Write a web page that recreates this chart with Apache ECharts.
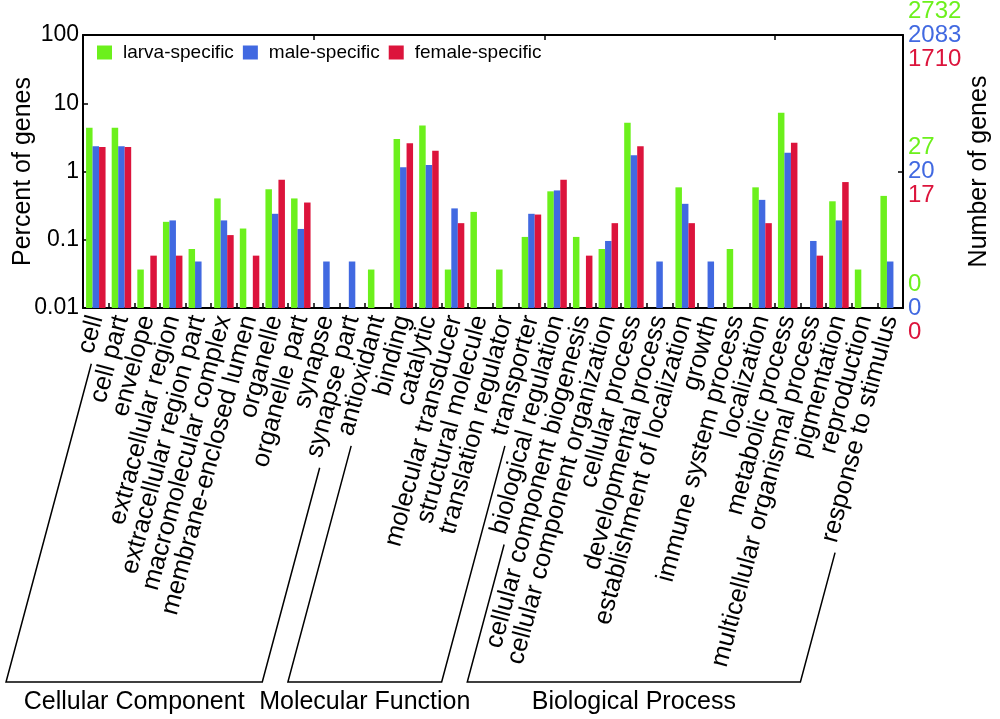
<!DOCTYPE html>
<html><head><meta charset="utf-8">
<script src="https://cdn.jsdelivr.net/npm/echarts@6/dist/echarts.min.js"></script>
<style>html,body{margin:0;padding:0;background:#fff}#c{width:1000px;height:719px}</style>
</head><body><div id="c"></div>
<script>
const categories = ['cell','cell part','envelope','extracellular region','extracellular region part','macromolecular complex','membrane-enclosed lumen','organelle','organelle part','synapse','synapse part',
  'antioxidant','binding','catalytic','molecular transducer','structural molecule','translation regulator','transporter',
  'biological regulation','cellular component biogenesis','cellular component organization','cellular process','developmental process','establishment of localization','growth','immune system process','localization','metabolic process','multicellular organismal process','pigmentation','reproduction','response to stimulus'];
const groupNames = ['Cellular Component','Molecular Function','Biological Process'];
const groupFirst = [0, 11, 18];
const groupLast = [10, 17, 31];
const seriesNames = ['larva-specific','male-specific','female-specific'];
const larva  = [4.39,4.39,0.0366,0.183,0.0732,0.403,0.146,0.549,0.403,null,null, 0.0366,3.0,4.73,0.0366,0.256,0.0366,0.110, 0.512,0.110,0.0732,5.18,null,0.586,null,0.0732,0.586,7.26,null,0.366,0.0366,0.439];
const male   = [2.35,2.35,null,0.192,0.048,0.192,null,0.24,0.144,0.048,0.048, null,1.15,1.25,0.288,null,null,0.24, 0.528,null,0.096,1.73,0.048,0.336,0.048,null,0.384,1.88,0.096,0.192,null,0.048];
const female = [2.28,2.28,0.0585,0.0585,null,0.117,0.0585,0.76,0.351,null,null, null,2.6,2.01,0.175,null,null,0.234, 0.76,0.0585,0.175,2.35,null,0.175,null,null,0.175,2.63,0.0585,0.70,null,null];
const leftTickLabels = ['0.01','0.1','1','10','100'];
const rightTickLarva = ['0','27','2732'];
const rightTickMale = ['0','20','2083'];
const rightTickFemale = ['0','17','1710'];

const COLORS = ['#6CF01C','#4169E1','#DC143C'];
const FONT = '"Liberation Sans", Arial, Helvetica, sans-serif';
const LABEL_FS = 25.5;
const LABEL_ROT = 75;
const LABEL_MARGIN = 8;
const LABEL_PAD = 16;
const GRID = {left: 83, right: 97, top: 35, bottom: 411};
const BRACKET_Y = 682;
const BRACKET_ROT = 75;
const BRACKET_GAP = 9;

const chart = echarts.init(document.getElementById('c'), null, {renderer: 'canvas'});
const mkSeries = (name, data, color) => ({
  name, type: 'bar', data, barWidth: 6.5, barGap: '0%',
  itemStyle: {color}, xAxisIndex: 0, yAxisIndex: 0, emphasis: {disabled: true}
});
const option = {
  animation: false,
  backgroundColor: '#fff',
  textStyle: {fontFamily: FONT},
  grid: Object.assign({outerBoundsMode: 'none', containLabel: false}, GRID),
  legend: {
    left: 97, top: 43, padding: 0, orient: 'horizontal', icon: 'rect', itemWidth: 15, itemHeight: 14, itemGap: 9,
    textStyle: {fontSize: 19, color: '#000', fontFamily: FONT, padding: [0,0,0,6]},
    data: seriesNames
  },
  xAxis: [{
    type: 'category', data: categories, position: 'bottom',
    axisLine: {show: true, onZero: false, lineStyle: {color: '#000', width: 2}},
    axisTick: {show: true, inside: true, length: 5, alignWithLabel: false, lineStyle: {color: '#000', width: 1.5}},
    axisLabel: {interval: 0, hideOverlap: false, rotate: LABEL_ROT, margin: LABEL_MARGIN, fontSize: LABEL_FS, color: '#000', fontFamily: FONT, padding: [LABEL_PAD,0,0,0]},
    splitLine: {show: false}
  }, {
    type: 'category', data: categories, position: 'top',
    axisLine: {show: true, onZero: false, lineStyle: {color: '#000', width: 2}},
    axisTick: {show: true, inside: true, length: 5, lineStyle: {color: '#000', width: 1.5}},
    axisLabel: {show: false}, splitLine: {show: false}
  }],
  yAxis: [{
    type: 'log', logBase: 10, min: 0.01, max: 100, startValue: 0.01, position: 'left',
    name: 'Percent of genes', nameLocation: 'middle', nameRotate: 90, nameGap: 47, nameMoveOverlap: false,
    nameTextStyle: {fontSize: 25, color: '#000', fontFamily: FONT},
    axisLine: {show: true, onZero: false, lineStyle: {color: '#000', width: 2}},
    axisTick: {show: true, inside: true, length: 5, lineStyle: {color: '#000', width: 1.5}},
    axisLabel: {fontSize: 23, color: '#000', margin: 4, fontFamily: FONT,
      formatter: (v) => leftTickLabels[Math.round(Math.log10(v)) + 2]},
    splitLine: {show: false}, minorTick: {show: false}
  }, {
    type: 'value', min: -2, max: 2, interval: 2, position: 'right',
    name: 'Number of genes', nameLocation: 'middle', nameRotate: 90, nameGap: 64, nameMoveOverlap: false,
    nameTextStyle: {fontSize: 25, color: '#000', fontFamily: FONT},
    axisLine: {show: true, onZero: false, lineStyle: {color: '#000', width: 2}},
    axisTick: {show: true, inside: true, length: 5, lineStyle: {color: '#000', width: 1.5}},
    axisLabel: {margin: 5, fontFamily: FONT,
      formatter: (v) => { const i = Math.round((v + 2) / 2); return '{g|' + rightTickLarva[i] + '}\n{b|' + rightTickMale[i] + '}\n{r|' + rightTickFemale[i] + '}'; },
      rich: {
        g: {fontSize: 24, lineHeight: 24, color: COLORS[0], fontFamily: FONT},
        b: {fontSize: 24, lineHeight: 24, color: COLORS[1], fontFamily: FONT},
        r: {fontSize: 24, lineHeight: 24, color: COLORS[2], fontFamily: FONT}
      }},
    splitLine: {show: false}
  }],
  series: [mkSeries(seriesNames[0], larva, COLORS[0]), mkSeries(seriesNames[1], male, COLORS[1]), mkSeries(seriesNames[2], female, COLORS[2])]
};
chart.setOption(option);

// group brackets derived from category positions and label lengths
const ctx = document.createElement('canvas').getContext('2d');
ctx.font = LABEL_FS + 'px ' + FONT;
const th = LABEL_ROT * Math.PI / 180;
const d = [-Math.cos(th), Math.sin(th)];      // along label, toward its start
const n = [Math.sin(th), Math.cos(th)];       // perpendicular shift caused by padding
const bt = BRACKET_ROT * Math.PI / 180;
const bd = [-Math.cos(bt), Math.sin(bt)];
const axisY = chart.getHeight() - GRID.bottom;
function labelEnd(i) {
  const x = chart.convertToPixel({xAxisIndex: 0}, categories[i]) + n[0] * LABEL_PAD / 2;
  const y = axisY + LABEL_MARGIN + n[1] * LABEL_PAD / 2;
  const w = ctx.measureText(categories[i]).width + BRACKET_GAP;
  return [x + d[0] * w, y + d[1] * w];
}
function toBase(p) {
  const t = (BRACKET_Y - p[1]) / bd[1];
  return [p[0] + bd[0] * t, BRACKET_Y];
}
const graphics = [];
for (let g = 0; g < groupNames.length; g++) {
  const pL = labelEnd(groupFirst[g]);
  const pR = labelEnd(groupLast[g]);
  const bL = toBase(pL), bR = toBase(pR);
  graphics.push({type: 'polyline', silent: true, shape: {points: [pL, bL, bR, pR]},
    style: {stroke: '#000', lineWidth: 1.5, fill: null}});
  const cx = (Math.max(bL[0], 0) + bR[0]) / 2;
  graphics.push({type: 'text', silent: true, x: cx, y: BRACKET_Y + 20,
    style: {text: groupNames[g], fontSize: 25, fontFamily: FONT, fill: '#000', align: 'center', verticalAlign: 'middle'}});
}
chart.setOption({graphic: graphics});
</script></body></html>
